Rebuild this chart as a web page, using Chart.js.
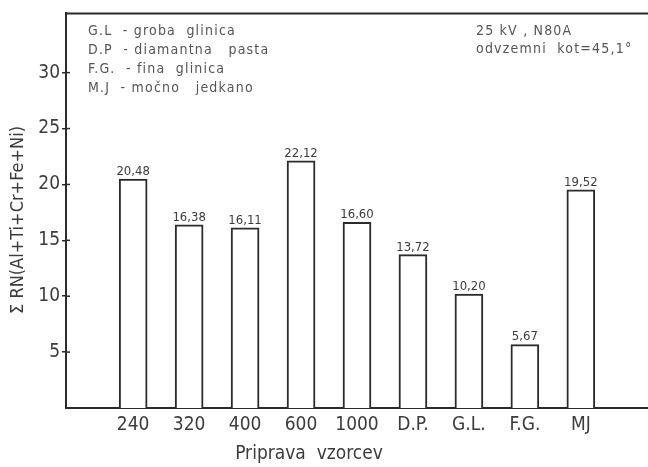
<!DOCTYPE html>
<html>
<head>
<meta charset="utf-8">
<script src="https://cdn.jsdelivr.net/npm/chart.js@4"></script>
<style>
html,body{margin:0;padding:0;background:#fff;}
#wrap{width:648px;height:467px;position:relative;}
</style>
</head>
<body>
<div id="wrap"><canvas id="c" width="648" height="467"></canvas></div>
<script>
const categories = ["240", "320", "400", "600", "1000", "D.P.", "G.L.", "F.G.", "MJ"];
const values = [20.48, 16.38, 16.11, 22.12, 16.60, 13.72, 10.20, 5.67, 19.52];
const yTicks = [5, 10, 15, 20, 25, 30];
const legendLines = ["G.L  - groba  glinica", "D.P  - diamantna   pasta", "F.G.  - fina  glinica", "M.J  - močno   jedkano"];
const noteLines = ["25 kV , N80A", "odvzemni  kot=45,1°"];
const yTitle = "Σ RN(Al+Ti+Cr+Fe+Ni)";
const xTitle = "Priprava  vzorcev";

const FONT = "'Liberation Sans Narrow', 'DejaVu Sans Condensed', 'Liberation Sans', sans-serif";
const INK = '#2b2b2b';
const TXT = '#3c3c3c';

const decor = {
  id: 'decor',
  afterDraw(chart) {
    const ctx = chart.ctx;
    const a = chart.chartArea;
    const y = chart.scales.y;
    ctx.save();
    // top frame line
    ctx.strokeStyle = INK; ctx.lineWidth = 2;
    ctx.beginPath(); ctx.moveTo(a.left - 1, a.top); ctx.lineTo(a.right, a.top); ctx.stroke();
    // inner halves of y tick marks
    ctx.lineWidth = 1.5;
    yTicks.forEach(v => {
      const py = y.getPixelForValue(v);
      ctx.beginPath(); ctx.moveTo(a.left, py); ctx.lineTo(a.left + 4, py); ctx.stroke();
    });
    // value labels
    ctx.fillStyle = TXT;
    ctx.font = "13px " + FONT;
    ctx.textAlign = 'center'; ctx.textBaseline = 'bottom';
    const meta = chart.getDatasetMeta(0);
    meta.data.forEach((bar, i) => {
      ctx.fillText(values[i].toFixed(2).replace('.', ','), bar.x, bar.y - 1);
    });
    // annotations
    ctx.fillStyle = '#555';
    ctx.font = "14px " + FONT;
    try { ctx.letterSpacing = '1.2px'; } catch (e) {}
    ctx.textAlign = 'left'; ctx.textBaseline = 'middle';
    legendLines.forEach((t, i) => ctx.fillText(t, 88, 31 + i * 19));
    noteLines.forEach((t, i) => ctx.fillText(t, 476, 31 + i * 18));
    try { ctx.letterSpacing = '0px'; } catch (e) {}
    // x title
    ctx.fillStyle = TXT;
    ctx.font = "19px " + FONT;
    ctx.textAlign = 'center'; ctx.textBaseline = 'middle';
    ctx.fillText(xTitle, 309, 454);
    // y title
    ctx.translate(18, 220);
    ctx.rotate(-Math.PI / 2);
    ctx.font = "18px " + FONT;
    ctx.fillText(yTitle, 0, 0);
    ctx.restore();
  }
};

new Chart(document.getElementById('c'), {
  type: 'bar',
  data: {
    datasets: [{
      data: values.map((v, i) => ({ x: i, y: v })),
      backgroundColor: '#ffffff',
      borderColor: INK,
      borderWidth: 2,
      borderSkipped: 'bottom',
      barThickness: 28
    }]
  },
  options: {
    responsive: false,
    animation: false,
    layout: { padding: { top: 12, right: 0, left: 0, bottom: 0 } },
    plugins: { legend: { display: false }, tooltip: { enabled: false } },
    scales: {
      x: {
        type: 'linear',
        min: -1.2,
        max: 9.2,
        offset: false,
        afterBuildTicks: s => { s.ticks = categories.map((_, i) => ({ value: i })); },
        afterFit: s => { s.height = 59; },
        ticks: {
          autoSkip: false,
          maxRotation: 0,
          padding: 6,
          color: TXT,
          font: { family: FONT, size: 19 },
          callback: (v) => categories[v] ?? ''
        },
        grid: { display: false, drawTicks: false },
        border: { display: true, color: INK, width: 2 }
      },
      y: {
        min: 0,
        max: 35.3,
        afterBuildTicks: s => { s.ticks = yTicks.map(v => ({ value: v })); },
        afterFit: s => { s.width = 66; },
        ticks: {
          padding: 2,
          color: TXT,
          font: { family: FONT, size: 19 }
        },
        grid: { drawOnChartArea: false, drawTicks: true, tickLength: 4, color: INK, lineWidth: 1.5 },
        border: { display: true, color: INK, width: 2 }
      }
    }
  },
  plugins: [decor]
});
</script>
</body>
</html>
